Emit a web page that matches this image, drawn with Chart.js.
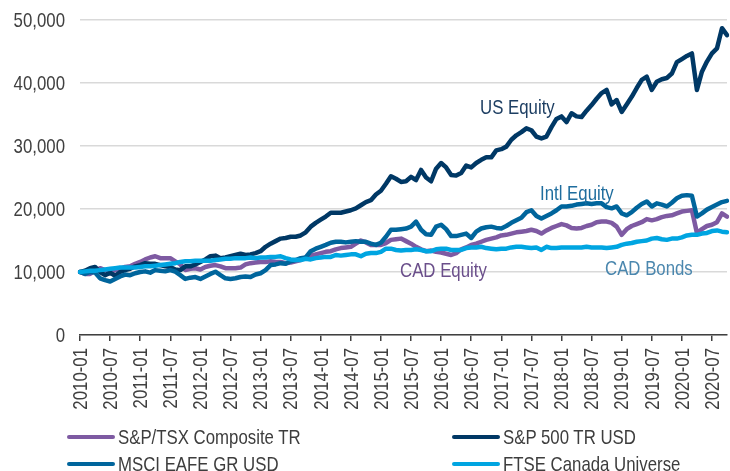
<!DOCTYPE html>
<html>
<head>
<meta charset="utf-8">
<script src="https://cdn.jsdelivr.net/npm/chart.js@4.4.0/dist/chart.umd.min.js"></script>
<style>
html, body { margin: 0; padding: 0; background: #ffffff; }
#wrap { position: relative; width: 730px; height: 471px; overflow: hidden;
        font-family: "Liberation Sans", Arial, sans-serif; }
#c { position: absolute; left: 0; top: 0; }
.lg { position: absolute; display: flex; align-items: center; height: 26px;
      font-size: 21px; color: #3d3d3d; white-space: nowrap; }
.lg .sw { display: inline-block; width: 48px; height: 4.5px; border-radius: 3px; margin-right: 3px; flex: none; }
.lg .tx { display: inline-block; transform: scaleX(0.8); transform-origin: 0 50%; }
</style>
</head>
<body>
<div id="wrap">
  <canvas id="c" width="730" height="471"></canvas>
</div>
<script>
// ---------- data ----------
const seriesNames = ['S&P/TSX Composite TR', 'S&P 500 TR USD', 'MSCI EAFE GR USD', 'FTSE Canada Universe'];
const seriesColors = ['#7e5aa2', '#003865', '#00659c', '#00a5e1'];

// monthly categories 2010-01 .. 2020-10
const monthLabels = [];
for (let y = 2010; y <= 2020; y++) {
  for (let m = 1; m <= 12; m++) {
    if (y === 2020 && m > 10) break;
    monthLabels.push(y + '-' + String(m).padStart(2, '0'));
  }
}
const tickMonths = ['01', '07'];
const yTicks = [0, 10000, 20000, 30000, 40000, 50000];

const tsxTR = [
 10000, 9700, 9700, 10200, 10600, 10300, 10000, 10300, 10500, 10800, 10900, 11300,
 11600, 12000, 12300, 12500, 12200, 12200, 12200, 11700, 11200, 10300, 10500, 10600,
 10400, 10800, 11000, 11100, 10900, 10600, 10600, 10600, 10700, 11200, 11400, 11500,
 11600, 11600, 11700, 11600, 11600, 11400, 11500, 11700, 11900, 12300, 12600, 12800,
 13000, 13200, 13300, 13600, 13800, 13900, 14000, 14500, 15000, 14700, 14300, 14300,
 14300, 14600, 15100, 15200, 15300, 14900, 14500, 14000, 13600, 13300, 13400, 13200,
 13100, 12900, 12700, 13000, 13600, 13900, 14300, 14500, 14800, 15100, 15300, 15500,
 15800, 15900, 16100, 16300, 16400, 16500, 16700, 16500, 16100, 16600, 17000, 17300,
 17600, 17400, 17000, 16900, 17000, 17300, 17500, 17900, 18000, 18000, 17800, 17200,
 15900, 16800, 17300, 17600, 17900, 18400, 18200, 18400, 18700, 18900, 19000, 19300,
 19600, 19700, 19800, 16200, 16800, 17300, 17500, 17900, 19300, 18800
];
const sp500TR = [
 10000, 10200, 10600, 10800, 10000, 9500, 9900, 9400, 10000, 10300, 10500, 10900,
 11100, 11400, 11300, 11300, 11100, 10900, 10800, 10400, 10300, 10900, 10900, 11200,
 11600, 12000, 12500, 12600, 12200, 12300, 12500, 12700, 12900, 12700, 12800, 13000,
 13300, 14000, 14500, 14900, 15300, 15400, 15600, 15600, 15800, 16300, 17200, 17800,
 18300, 18800, 19400, 19400, 19400, 19600, 19800, 20100, 20600, 21100, 21400, 22300,
 22900, 24000, 25200, 24800, 24300, 24400, 25100, 24600, 26200, 25000, 24400, 26400,
 27300, 26600, 25400, 25300, 25700, 26900, 26600, 27300, 27800, 28200, 28200, 29300,
 29500, 29900, 31000, 31700, 32200, 32800, 32500, 31500, 31200, 31500, 33000, 34300,
 34700, 33800, 35200, 34700, 34600, 35600, 36500, 37500, 38400, 38900, 36600, 37300,
 35400, 36600, 37800, 39200, 40500, 41000, 38900, 40200, 40600, 40800, 41500, 43300,
 43800, 44300, 44700, 38900, 41800, 43400, 44700, 45500, 48700, 47600
];
const eafeGR = [
 10000, 9700, 10000, 9900, 9000, 8700, 8500, 8900, 9300, 9600, 9500, 9800,
 10000, 10100, 9900, 10300, 10200, 10100, 10300, 10050, 9500, 8900, 9100, 9200,
 8900, 9300, 9700, 10050, 9500, 9000, 8900, 9000, 9200, 9300, 9200, 9600,
 9800, 10300, 11100, 11200, 11400, 11300, 11700, 11900, 12200, 12300, 13300, 13700,
 14000, 14300, 14650, 14800, 14800, 14700, 14800, 14900, 14800, 14800, 14500, 14300,
 14650, 15600, 16700, 16700, 16800, 16900, 17200, 18000, 16700, 16000, 15900, 17200,
 17500, 16800, 15700, 15700, 15900, 16100, 15400, 16400, 16900, 17100, 17200, 17000,
 16900, 17300, 17800, 18200, 18600, 19500, 19800, 18900, 18500, 18900, 19300, 19800,
 20400, 20400, 20500, 20700, 20800, 20900, 20800, 20900, 20900, 20300, 20100, 20400,
 19300, 19000, 19500, 20200, 20800, 21200, 20400, 20900, 20700, 20400, 21000, 21700,
 22100, 22200, 22100, 18800, 19300, 19900, 20300, 20700, 21100, 21300
];
const ftseUniverse = [
 10000, 10100, 10200, 10200, 10300, 10400, 10500, 10600, 10700, 10700, 10700, 10700,
 10800, 10900, 10900, 11000, 11100, 11200, 11300, 11400, 11600, 11700, 11700, 11800,
 11800, 11800, 11800, 11900, 12000, 12100, 12100, 12200, 12200, 12200, 12300, 12200,
 12300, 12300, 12400, 12400, 12500, 12200, 12000, 11900, 11900, 12100, 12000, 12200,
 12300, 12400, 12400, 12700, 12600, 12700, 12800, 12800, 12500, 12900, 13000, 13000,
 13200, 13700, 13700, 13500, 13400, 13500, 13500, 13600, 13500, 13300, 13300, 13600,
 13700, 13700, 13500, 13500, 13500, 13800, 13900, 13900, 14000, 13800, 13700, 13600,
 13700, 13700, 13900, 14000, 14000, 13900, 13800, 13900, 13500, 14000, 13800, 13800,
 13900, 13900, 13900, 13900, 13900, 14000, 13900, 13900, 13900, 13800, 13900, 14000,
 14300, 14500, 14600, 14800, 14900, 15000, 15300, 15400, 15200, 15100, 15300, 15300,
 15500, 15800, 15900, 15900, 16100, 16200, 16500, 16600, 16400, 16300
];

const annotations = [
  { text: 'US Equity',   color: '#1d3e62', x: 480, y: 113.5 },
  { text: 'Intl Equity', color: '#1f6d9e', x: 540, y: 199.5 },
  { text: 'CAD Equity',  color: '#6b4f8b', x: 400, y: 276.5 },
  { text: 'CAD Bonds',   color: '#4b87ae', x: 605, y: 274.5 }
];

const FONT = '"Liberation Sans", Arial, sans-serif';
const NARROW = 0.8;       // horizontal squeeze to mimic the condensed face
const TEXT_COLOR = '#404040';

function squeezedText(ctx, text, x, y, rot, align) {
  ctx.save();
  ctx.translate(x, y);
  if (rot) ctx.rotate(rot);
  ctx.scale(NARROW, 1);
  ctx.textAlign = align;
  ctx.fillText(text, 0, 0);
  ctx.restore();
}

const textPlugin = {
  id: 'narrowText',
  afterDraw(chart) {
    const ctx = chart.ctx;
    const xs = chart.scales.x, ys = chart.scales.y;
    ctx.save();
    ctx.font = '21px ' + FONT;
    ctx.fillStyle = TEXT_COLOR;
    // y tick labels
    ctx.textBaseline = 'middle';
    ys.ticks.forEach(t => {
      squeezedText(ctx, t.value.toLocaleString('en-US'), chart.chartArea.left - 15, ys.getPixelForValue(t.value) + 1, 0, 'right');
    });
    // x tick labels, rotated
    ctx.font = '21px ' + FONT;
    monthLabels.forEach((l, i) => {
      if (!tickMonths.includes(l.slice(5))) return;
      squeezedText(ctx, l, xs.getPixelForValue(i) + 1, chart.chartArea.bottom + 13, -Math.PI / 2, 'right');
    });
    // series annotations
    ctx.textBaseline = 'alphabetic';
    annotations.forEach(a => {
      ctx.fillStyle = a.color;
      squeezedText(ctx, a.text, a.x, a.y, 0, 'left');
    });
    ctx.restore();
  }
};

const seriesData = [tsxTR, sp500TR, eafeGR, ftseUniverse];
const drawOrder = [4, 3, 2, 1];

new Chart(document.getElementById('c').getContext('2d'), {
  type: 'line',
  data: {
    labels: monthLabels,
    datasets: seriesNames.map((n, k) => ({
      label: n, data: seriesData[k], borderColor: seriesColors[k],
      backgroundColor: seriesColors[k], order: drawOrder[k], fill: false
    }))
  },
  options: {
    responsive: false, animation: false, devicePixelRatio: 1,
    layout: { padding: { left: 0, right: 3, top: 20, bottom: 0 } },
    elements: {
      line: { borderWidth: 4.5, tension: 0, borderJoinStyle: 'round', borderCapStyle: 'round' },
      point: { radius: 0, hoverRadius: 0 }
    },
    plugins: { legend: { display: false }, tooltip: { enabled: false } },
    scales: {
      x: {
        type: 'category', offset: false,
        grid: {
          display: true, drawOnChartArea: false, drawTicks: true, tickLength: 6, lineWidth: 1.5,
          color: c => (c.index !== undefined && monthLabels[c.index] &&
                       tickMonths.includes(monthLabels[c.index].slice(5))) ? TEXT_COLOR : 'rgba(0,0,0,0)'
        },
        border: { display: true, color: TEXT_COLOR, width: 1.5 },
        ticks: { autoSkip: false, display: false },
        afterFit: s => { s.height = 136; }
      },
      y: {
        min: 0, max: 50000,
        afterBuildTicks: s => { s.ticks = yTicks.map(v => ({ value: v })); },
        ticks: { display: false },
        grid: { color: '#d9d9d9', lineWidth: 1.5, drawTicks: false },
        border: { display: false },
        afterFit: s => { s.width = 80; }
      }
    }
  },
  plugins: [textPlugin]
});

// ---------- legend (HTML text) ----------
const legendSlots = [
  { left: 67, top: 424 }, { left: 452, top: 424 },
  { left: 67, top: 451 }, { left: 452, top: 451 }
];
const wrap = document.getElementById('wrap');
seriesNames.forEach((n, k) => {
  const d = document.createElement('div');
  d.className = 'lg';
  d.style.left = legendSlots[k].left + 'px';
  d.style.top = legendSlots[k].top + 'px';
  const sw = document.createElement('span');
  sw.className = 'sw';
  sw.style.background = seriesColors[k];
  const t = document.createElement('span');
  t.className = 'tx';
  t.textContent = n;
  d.appendChild(sw); d.appendChild(t);
  wrap.appendChild(d);
});
</script>
</body>
</html>
